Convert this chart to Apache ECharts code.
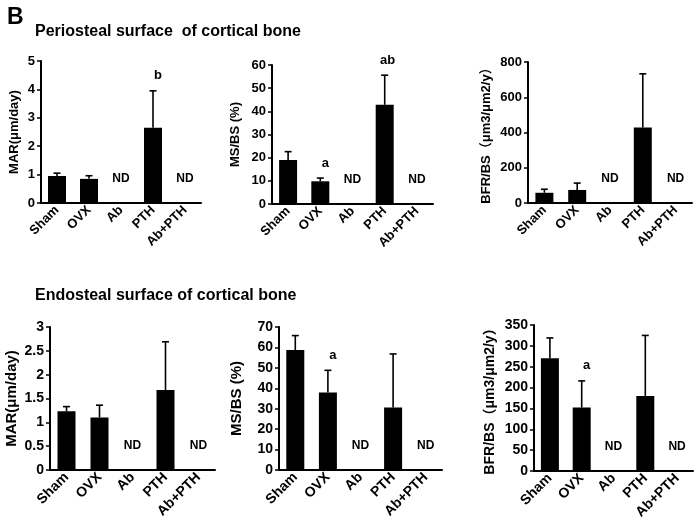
<!DOCTYPE html>
<html>
<head>
<meta charset="utf-8">
<script src="https://cdn.jsdelivr.net/npm/echarts@6/dist/echarts.min.js"></script>
<style>
html,body{margin:0;padding:0;background:#fff;}
#chart{width:698px;height:525px;}
</style>
</head>
<body>
<div id="chart"></div>
<script>
// ---- data ----
const categories = ['Sham', 'OVX', 'Ab', 'PTH', 'Ab+PTH'];

// Periosteal surface
const periMAR = [0.95, 0.85, null, 2.65, null];
const periMARErr = [1.05, 0.96, null, 3.95, null];
const periMARSig = ['', '', '', 'b', ''];

const periMS = [19, 9.8, null, 42.8, null];
const periMSErr = [22.6, 11.2, null, 55.6, null];
const periMSSig = ['', 'a', '', 'ab', ''];

const periBFR = [58, 74, null, 428, null];
const periBFRErr = [78, 113, null, 733, null];
const periBFRSig = ['', '', '', '', ''];

// Endosteal surface
const endoMAR = [1.23, 1.10, null, 1.68, null];
const endoMARErr = [1.33, 1.36, null, 2.69, null];
const endoMARSig = ['', '', '', '', ''];

const endoMS = [58.7, 37.9, null, 30.6, null];
const endoMSErr = [65.8, 48.8, null, 56.8, null];
const endoMSSig = ['', 'a', '', '', ''];

const endoBFR = [270, 152, null, 180, null];
const endoBFRErr = [319, 216, null, 325, null];
const endoBFRSig = ['', 'a', '', '', ''];

const ndText = 'ND';

const panels = [
  {vals: periMAR, errs: periMARErr, sig: periMARSig, name: 'MAR(μm/day)', max: 5, interval: 1,
   grid: {left: 41, top: 61, width: 160, height: 142}, nameGap: 20, nameSize: 13, tickSize: 13, catSize: 13},
  {vals: periMS, errs: periMSErr, sig: periMSSig, name: 'MS/BS (%)', max: 60, interval: 10,
   grid: {left: 272, top: 65, width: 161, height: 139}, nameGap: 30, nameSize: 13, tickSize: 13, catSize: 13},
  {vals: periBFR, errs: periBFRErr, sig: periBFRSig, name: 'BFR/BS（μm3/μm2/y）', max: 800, interval: 200,
   grid: {left: 528, top: 62, width: 164, height: 141}, nameGap: 35, nameSize: 13, tickSize: 13, catSize: 13},
  {vals: endoMAR, errs: endoMARErr, sig: endoMARSig, name: 'MAR(μm/day)', max: 3, interval: 0.5,
   grid: {left: 50, top: 327, width: 165, height: 143}, nameGap: 31, nameSize: 15, tickSize: 14, catSize: 14},
  {vals: endoMS, errs: endoMSErr, sig: endoMSSig, name: 'MS/BS (%)', max: 70, interval: 10,
   grid: {left: 279, top: 327, width: 163, height: 143}, nameGap: 35, nameSize: 15, tickSize: 14, catSize: 14},
  {vals: endoBFR, errs: endoBFRErr, sig: endoBFRSig, name: 'BFR/BS（μm3/μm2/y）', max: 350, interval: 50,
   grid: {left: 534, top: 325, width: 159, height: 146}, nameGap: 37, nameSize: 14, tickSize: 14, catSize: 14}
];

const FONT = 'Liberation Sans, Arial, Noto Sans CJK SC, sans-serif';

const grids = [], xAxes = [], yAxes = [], series = [];
panels.forEach((p, k) => {
  grids.push(Object.assign({containLabel: false}, p.grid));
  xAxes.push({
    type: 'category', gridIndex: k, data: categories,
    axisLine: {lineStyle: {color: '#000', width: 2}},
    axisTick: {show: false},
    axisLabel: {rotate: 45, interval: 0, margin: 5, color: '#000', fontWeight: 'bold',
                fontSize: p.catSize, fontFamily: FONT}
  });
  yAxes.push({
    type: 'value', gridIndex: k, min: 0, max: p.max, interval: p.interval,
    name: p.name, nameLocation: 'middle', nameGap: p.nameGap,
    nameTextStyle: {color: '#000', fontWeight: 'bold', fontSize: p.nameSize, fontFamily: FONT},
    axisLine: {show: true, lineStyle: {color: '#000', width: 2}},
    axisTick: {show: true, length: 4, lineStyle: {color: '#000', width: 1.5}},
    splitLine: {show: false},
    axisLabel: {color: '#000', fontWeight: 'bold', fontSize: p.tickSize, margin: 6, fontFamily: FONT}
  });
  series.push({
    type: 'bar', xAxisIndex: k, yAxisIndex: k, data: p.vals, barWidth: 18,
    itemStyle: {color: '#000'}, silent: true, animation: false
  });
  series.push({
    type: 'custom', xAxisIndex: k, yAxisIndex: k, animation: false, silent: true,
    data: categories.map((c, i) => [i, 0]),
    encode: {x: 0, y: 1},
    z: 5,
    renderItem: function (params, api) {
      const i = api.value(0);
      const children = [];
      const v = p.vals[i], e = p.errs[i];
      if (v != null && e != null) {
        const a = api.coord([i, v]);
        const b = api.coord([i, e]);
        children.push({type: 'line', shape: {x1: a[0], y1: a[1], x2: b[0], y2: b[1]},
                       style: {stroke: '#000', lineWidth: 1.6}});
        children.push({type: 'line', shape: {x1: b[0] - 3.5, y1: b[1], x2: b[0] + 3.5, y2: b[1]},
                       style: {stroke: '#000', lineWidth: 1.6}});
        if (p.sig[i]) {
          children.push({type: 'text', x: b[0] + (p.sig[i].length === 1 ? 5 : 3), y: b[1] - 15,
            style: {text: p.sig[i], fill: '#000', font: 'bold 13px ' + FONT,
                    textAlign: 'center', textVerticalAlign: 'middle'}});
        }
      }
      if (v == null) {
        const z = api.coord([i, 0]);
        children.push({type: 'text', x: z[0], y: z[1] - 24,
          style: {text: ndText, fill: '#000', font: 'bold 12px ' + FONT,
                  textAlign: 'center', textVerticalAlign: 'middle'}});
      }
      return {type: 'group', children: children};
    }
  });
});

const chart = echarts.init(document.getElementById('chart'), null, {renderer: 'canvas'});
chart.setOption({
  backgroundColor: '#fff',
  animation: false,
  title: [
    {text: 'B', left: 2, top: 1, textStyle: {fontSize: 23, fontWeight: 'bold', color: '#000', fontFamily: FONT}},
    {text: 'Periosteal surface  of cortical bone', left: 30, top: 19,
     textStyle: {fontSize: 16, fontWeight: 'bold', color: '#000', fontFamily: FONT}},
    {text: 'Endosteal surface of cortical bone', left: 30, top: 283,
     textStyle: {fontSize: 16, fontWeight: 'bold', color: '#000', fontFamily: FONT}}
  ],
  grid: grids, xAxis: xAxes, yAxis: yAxes, series: series
});
</script>
</body>
</html>
